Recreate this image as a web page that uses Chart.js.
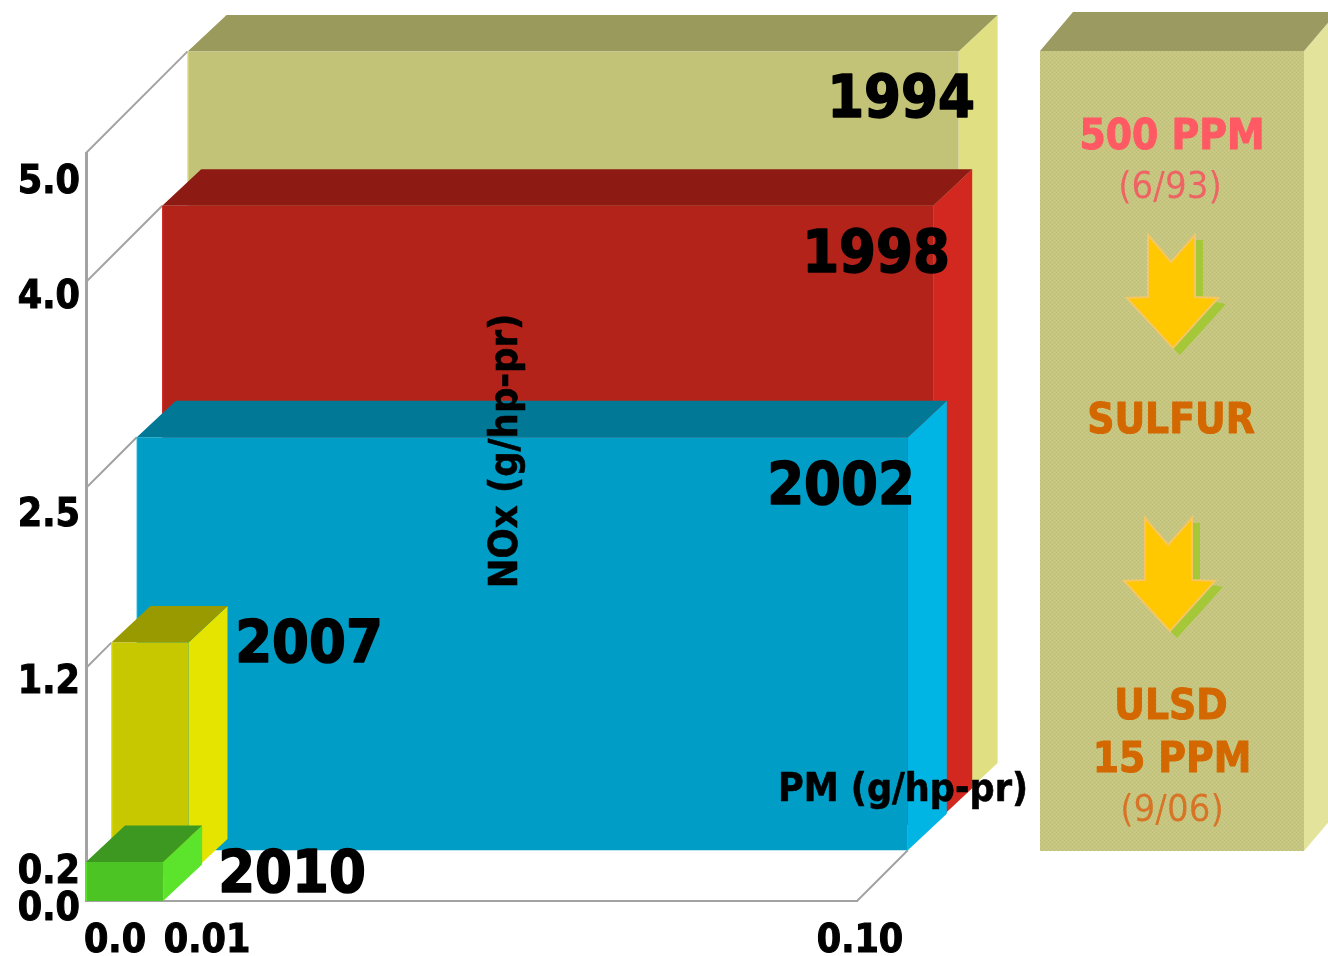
<!DOCTYPE html>
<html>
<head>
<meta charset="utf-8">
<title>NOx and PM standards</title>
<script src="https://cdn.jsdelivr.net/npm/chart.js@4"></script>
<style>
  html, body { margin: 0; padding: 0; background: #fff; overflow: hidden; }
  canvas { display: block; }
</style>
</head>
<body>
<canvas id="myChart" width="1328" height="956"></canvas>
<script>
'use strict';

// front to back
var years = ['2010', '2007', '2002', '1998', '1994'];
var pmValues = [0.01, 0.01, 0.10, 0.10, 0.10];
var noxValues = [0.2, 1.2, 2.5, 4.0, 5.0];

var xTicks = [0, 0.01, 0.10];
var xTickLabels = ['0.0', '0.01', '0.10'];
var yTicks = [0, 0.2, 1.2, 2.5, 4.0, 5.0];
var yTickLabels = ['0.0', '0.2', '1.2', '2.5', '4.0', '5.0'];

// styles
var frontColors = ['#4cc424', '#c8c800', '#009ec6', '#b4231a', '#c3c377'];
var topColors = ['#3c9820', '#999900', '#007896', '#8e1a14', '#9a9a5c'];
var sideColors = ['#5ce42c', '#e4e400', '#00b4e4', '#d2281f', '#e0e083'];
var yearLabelPos = [[292, 877], [309, 647], [841, 489], [876, 257], [901, 102]];
var yStops = [0, 0.0521, 0.3115, 0.5521, 0.8275, 1];
var yLabelShift = [[-6, 9], [-6, 11], [-6, 15], [-6, 28], [-6, 16], [-6, 30]];
var xLabelShift = [[29, 0], [44, 0], [3, 0]];

var AXIS = '#a3a3a3';
var BOLD = "'DejaVu Sans Condensed', 'DejaVu Sans'";
var STEP = 25.4;
var BOX_DX = 39;
var BOX_DY = 36.5;

function polygon(ctx, pts, color) {
  ctx.fillStyle = color;
  ctx.beginPath();
  pts.forEach(function(p, i) {
    if (i === 0) ctx.moveTo(p[0], p[1]);
    else ctx.lineTo(p[0], p[1]);
  });
  ctx.closePath();
  ctx.fill();
}

function drawBox(ctx, l, r, t, b, front, top, side) {
  polygon(ctx, [[r, t], [r + BOX_DX, t - BOX_DY], [r + BOX_DX, b - BOX_DY], [r, b]], side);
  polygon(ctx, [[l, t], [l + BOX_DX, t - BOX_DY], [r + BOX_DX, t - BOX_DY], [r, t]], top);
  polygon(ctx, [[l, t], [r, t], [r, b], [l, b]], front);
}

// tick labels in the picture do not sit on their ticks
class ShiftedLinearScale extends Chart.LinearScale {
  _computeLabelItems(chartArea) {
    var items = super._computeLabelItems(chartArea);
    var shift = this.options.labelShift || [];
    items.forEach(function(item, i) {
      if (shift[i]) {
        item.options.translation[0] += shift[i][0];
        item.options.translation[1] += shift[i][1];
      }
    });
    return items;
  }
}
ShiftedLinearScale.id = 'shiftedLinear';
ShiftedLinearScale.defaults = Chart.LinearScale.defaults;

// y axis of the original is not evenly spaced
class SteppedScale extends ShiftedLinearScale {
  getPixelForValue(value) {
    var stops = this.options.stops;
    var i = 0;
    while (i < yTicks.length - 2 && value > yTicks[i + 1]) i++;
    var t = (value - yTicks[i]) / (yTicks[i + 1] - yTicks[i]);
    var frac = stops[i] + t * (stops[i + 1] - stops[i]);
    return this.bottom - frac * (this.bottom - this.top);
  }
}
SteppedScale.id = 'stepped';
SteppedScale.defaults = Chart.LinearScale.defaults;

class Box3dController extends Chart.ScatterController {
  draw() {
    var meta = this._cachedMeta;
    var i = this.index;
    var pt = meta.data[0];
    var shift = i * STEP;
    var l = meta.xScale.getPixelForValue(0) + shift;
    var b = meta.yScale.getPixelForValue(0) - shift;
    var r = pt.x + shift;
    var t = pt.y - shift;
    var ctx = this.chart.ctx;
    ctx.save();
    drawBox(ctx, l, r, t, b, frontColors[i], topColors[i], sideColors[i]);
    polygon(ctx, [[l, t], [l + 1, t], [l + 1, b], [l, b]], sideColors[i]);
    ctx.restore();
  }
}
Box3dController.id = 'box3d';
Box3dController.defaults = Chart.ScatterController.defaults;

Chart.register(ShiftedLinearScale, SteppedScale, Box3dController);

function panelPattern(ctx) {
  var tile = document.createElement('canvas');
  tile.width = tile.height = 4;
  var t = tile.getContext('2d');
  t.fillStyle = '#c6c680';
  t.fillRect(0, 0, 4, 4);
  t.fillStyle = '#bcbc74';
  t.fillRect(0, 0, 1, 1);
  t.fillRect(2, 2, 1, 1);
  t.fillStyle = '#cccc8a';
  t.fillRect(2, 0, 1, 1);
  t.fillRect(0, 2, 1, 1);
  return ctx.createPattern(tile, 'repeat');
}

function drawArrow(ctx, ox, oy) {
  var body = [[1148, 235], [1171, 262], [1195, 235], [1195, 297], [1218, 298], [1173, 348], [1127, 298], [1148, 297]];
  function at(list) {
    return list.map(function(p) { return [p[0] + ox, p[1] + oy]; });
  }
  polygon(ctx, at([[1195, 240], [1203, 240], [1203, 297], [1195, 297]]), '#a4c838');
  polygon(ctx, at([[1216, 302], [1226, 304], [1180, 355], [1173, 348]]), '#a4c838');
  polygon(ctx, at(body), '#ffc800');
  ctx.strokeStyle = '#f6c662';
  ctx.lineWidth = 2;
  ctx.lineJoin = 'miter';
  ctx.stroke();
}

// bolder than the installed bold, the original is a heavier face
function text(ctx, str, x, y, font, color, weight) {
  ctx.font = font;
  ctx.fillStyle = color;
  ctx.textAlign = 'center';
  ctx.textBaseline = 'middle';
  ctx.fillText(str, x, y);
  if (weight) {
    ctx.strokeStyle = color;
    ctx.lineWidth = weight;
    ctx.lineJoin = 'round';
    ctx.strokeText(str, x, y);
  }
}

var sidePanel = {
  id: 'sidePanel',
  beforeDatasetsDraw: function(chart) {
    var ctx = chart.ctx;
    ctx.save();
    // sulfur box on the right, runs off the edge of the page
    var l = 1040, r = 1304, t = 51, b = 851, dx = 33, dy = 39;
    polygon(ctx, [[r, t], [r + dx, t - dy], [r + dx, b - dy], [r, b]], '#e3e39c');
    polygon(ctx, [[l, t], [l + dx, t - dy], [r + dx, t - dy], [r, t]], '#9b9a60');
    ctx.fillStyle = panelPattern(ctx);
    ctx.fillRect(l, t, r - l, b - t);
    drawArrow(ctx, 0, 0);
    drawArrow(ctx, -3, 283);
    text(ctx, '500 PPM', 1172, 138, 'bold 42px ' + BOLD, '#ff5a64', 1);
    text(ctx, '(6/93)', 1170, 188, '38px ' + BOLD, '#ee6464');
    text(ctx, 'SULFUR', 1171, 422, 'bold 42px ' + BOLD, '#d46800', 1);
    text(ctx, 'ULSD', 1171, 708, 'bold 42px ' + BOLD, '#d46800', 1);
    text(ctx, '15 PPM', 1172, 761, 'bold 42px ' + BOLD, '#d46800', 1);
    text(ctx, '(9/06)', 1172, 811, '38px ' + BOLD, '#d87428');

    // wall lines from the axis back to each box
    var xs = chart.scales.x, ys = chart.scales.y;
    ctx.strokeStyle = AXIS;
    ctx.lineWidth = 2;
    years.forEach(function(year, i) {
      var yv = ys.getPixelForValue(noxValues[i]);
      ctx.beginPath();
      ctx.moveTo(xs.left, yv);
      ctx.lineTo(xs.left + i * STEP, yv - i * STEP);
      ctx.stroke();
    });
    // floor edge
    ctx.beginPath();
    ctx.moveTo(xs.getPixelForValue(0.10), ys.bottom);
    ctx.lineTo(xs.getPixelForValue(0.10) + 2 * STEP, ys.bottom - 2 * STEP);
    ctx.stroke();
    ctx.restore();
  },
  afterDatasetsDraw: function(chart) {
    var ctx = chart.ctx;
    ctx.save();
    years.forEach(function(year, i) {
      text(ctx, year, yearLabelPos[i][0], yearLabelPos[i][1], 'bold 59px ' + BOLD, '#000', 1.5);
    });
    text(ctx, 'PM (g/hp-pr)', 903, 791, 'bold 39px ' + BOLD, '#000', 0.6);
    ctx.translate(507, 451);
    ctx.rotate(-Math.PI / 2);
    text(ctx, 'NOx (g/hp-pr)', 0, 0, 'bold 39.5px ' + BOLD, '#000', 0.6);
    ctx.restore();
  }
};

var datasets = years.map(function(year, i) {
  return {
    type: 'box3d',
    label: year,
    clip: false,
    data: [{ x: pmValues[i], y: noxValues[i] }],
    backgroundColor: frontColors[i]
  };
});

var myChart = new Chart(document.getElementById('myChart'), {
  type: 'scatter',
  data: { datasets: datasets },
  plugins: [sidePanel],
  options: {
    responsive: false,
    animation: false,
    events: [],
    layout: { padding: { left: 0, top: 153, right: 471, bottom: 0 } },
    plugins: { legend: { display: false }, tooltip: { enabled: false } },
    scales: {
      x: {
        type: 'shiftedLinear',
        min: 0,
        max: 0.10,
        labelShift: xLabelShift,
        afterBuildTicks: function(s) {
          s.ticks = xTicks.map(function(v) { return { value: v }; });
        },
        afterFit: function(s) { s.height = 55; s.paddingLeft = 0; s.paddingRight = 0; },
        grid: { display: false, drawTicks: false },
        border: { display: true, color: AXIS, width: 2 },
        ticks: {
          autoSkip: false,
          maxRotation: 0,
          padding: 17,
          color: '#000',
          textStrokeColor: '#000',
          textStrokeWidth: 1,
          font: { family: BOLD, weight: 'bold', size: 39 },
          callback: function(v, i) { return xTickLabels[i]; }
        }
      },
      y: {
        type: 'stepped',
        min: 0,
        max: 5,
        stops: yStops,
        labelShift: yLabelShift,
        afterBuildTicks: function(s) {
          s.ticks = yTicks.map(function(v) { return { value: v }; });
        },
        afterFit: function(s) { s.width = 86; s.paddingTop = 0; s.paddingBottom = 0; },
        grid: { display: false, drawTicks: false },
        border: { display: true, color: AXIS, width: 3 },
        ticks: {
          autoSkip: false,
          padding: 0,
          color: '#000',
          textStrokeColor: '#000',
          textStrokeWidth: 1,
          font: { family: BOLD, weight: 'bold', size: 39 },
          callback: function(v, i) { return yTickLabels[i]; }
        }
      }
    }
  }
});
</script>
</body>
</html>
